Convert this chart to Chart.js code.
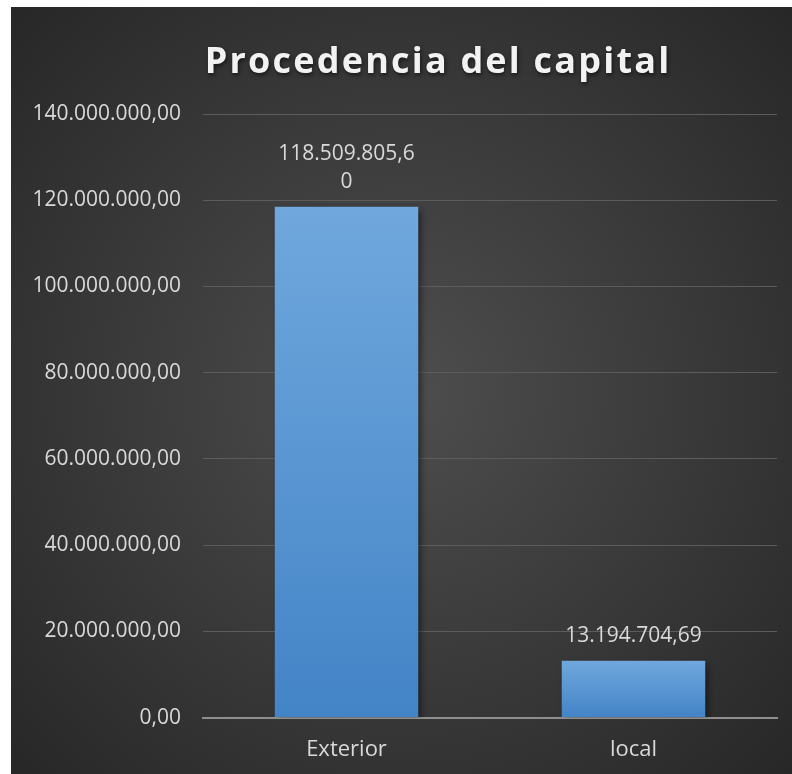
<!DOCTYPE html>
<html lang="es">
<head>
  <meta charset="UTF-8" />
  <title>Procedencia del capital</title>
  <script src="https://cdn.jsdelivr.net/npm/chart.js"></script>
  <style>
    * { margin: 0; padding: 0; box-sizing: border-box; }
    body { background: #fff; width: 792px; height: 774px; overflow: hidden; }
    .marco { position: absolute; left: 11px; top: 7px; width: 781px; height: 767px; }
  </style>
</head>
<body>
  <div class="marco"><canvas id="grafico"></canvas></div>

  <script>
    const titulo = 'Procedencia del capital';
    const categorias = ['Exterior', 'local'];
    const valores = [118509805.60, 13194704.69];
    const ejeMin = 0;
    const ejeMax = 140000000;
    const ejePaso = 20000000;

    // formato es: 1.234.567,89
    function formato(v) {
      const partes = v.toFixed(2).split('.');
      const entero = partes[0].replace(/\B(?=(\d{3})+(?!\d))/g, '.');
      return entero + ',' + partes[1];
    }

    const fuente = "'Open Sans', sans-serif";

    const fondo = {
      id: 'fondo',
      beforeDraw(chart) {
        const { ctx, width, height } = chart;
        const g = ctx.createRadialGradient(width * 0.5, height * 0.5, 0, width * 0.5, height * 0.5, width * 0.72);
        g.addColorStop(0, '#4e4e4e');
        g.addColorStop(1, '#262626');
        ctx.save();
        ctx.fillStyle = g;
        ctx.fillRect(0, 0, width, height);
        ctx.restore();
      }
    };

    const sombra = {
      id: 'sombra',
      beforeDatasetDraw(chart) {
        const ctx = chart.ctx;
        ctx.save();
        ctx.shadowColor = 'rgba(0,0,0,0.55)';
        ctx.shadowBlur = 7;
        ctx.shadowOffsetX = 3;
        ctx.shadowOffsetY = 3;
      },
      afterDatasetDraw(chart) {
        chart.ctx.restore();
      }
    };

    const tituloPlugin = {
      id: 'tituloPlugin',
      afterDraw(chart) {
        const ctx = chart.ctx;
        ctx.save();
        ctx.font = "bold 36px " + fuente;
        ctx.letterSpacing = '2.2px';
        ctx.fillStyle = '#f2f2f2';
        ctx.textAlign = 'center';
        ctx.textBaseline = 'alphabetic';
        ctx.shadowColor = 'rgba(0,0,0,0.6)';
        ctx.shadowBlur = 4;
        ctx.shadowOffsetX = 1;
        ctx.shadowOffsetY = 2;
        ctx.fillText(titulo, 427, 66);
        ctx.restore();
      }
    };

    const etiquetas = {
      id: 'etiquetas',
      afterDatasetsDraw(chart) {
        const ctx = chart.ctx;
        const meta = chart.getDatasetMeta(0);
        ctx.save();
        ctx.font = "21px " + fuente;
        ctx.fillStyle = '#d9d9d9';
        ctx.textAlign = 'center';
        ctx.textBaseline = 'middle';
        meta.data.forEach((bar, i) => {
          const texto = formato(valores[i]);
          const ancho = bar.width;
          const lineas = [];
          let resto = texto;
          while (ctx.measureText(resto).width > ancho && resto.length > 1) {
            let n = resto.length - 1;
            while (n > 1 && ctx.measureText(resto.slice(0, n)).width > ancho) n--;
            lineas.push(resto.slice(0, n));
            resto = resto.slice(n);
          }
          lineas.push(resto);
          const alto = 28;
          lineas.forEach((l, k) => {
            const y = bar.y - 25 - (lineas.length - 1 - k) * alto;
            ctx.fillText(l, bar.x, y);
          });
        });
        ctx.restore();
      }
    };

    function degradado(context) {
      const chart = context.chart;
      if (!chart.chartArea || context.dataIndex === undefined) return '#5b9bd5';
      const y = chart.scales.y;
      const top = y.getPixelForValue(valores[context.dataIndex]);
      const base = y.getPixelForValue(0);
      if (!isFinite(top) || !isFinite(base) || base - top < 1) return '#5b9bd5';
      const g = chart.ctx.createLinearGradient(0, top, 0, base);
      g.addColorStop(0, '#70a8dd');
      g.addColorStop(1, '#4384c7');
      return g;
    }

    const ctx = document.getElementById('grafico').getContext('2d');
    const grafico = new Chart(ctx, {
      type: 'bar',
      data: {
        labels: categorias,
        datasets: [{
          data: valores,
          backgroundColor: degradado,
          borderWidth: 0,
          categoryPercentage: 1,
          barPercentage: 0.5
        }]
      },
      options: {
        responsive: true,
        maintainAspectRatio: false,
        animation: false,
        layout: { padding: { top: 107, right: 15, bottom: 0, left: 0 } },
        plugins: {
          legend: { display: false },
          tooltip: { enabled: false },
          title: { display: false }
        },
        scales: {
          x: {
            grid: { display: false },
            border: { display: true, color: '#8f8f8f', width: 2 },
            ticks: { color: '#d9d9d9', font: { family: fuente, size: 22 }, padding: 11 }
          },
          y: {
            min: ejeMin,
            max: ejeMax,
            afterFit(scale) { scale.width = 192; },
            grid: { color: '#5c5c5c', lineWidth: 1, drawTicks: false },
            border: { display: false },
            ticks: {
              stepSize: ejePaso,
              color: '#d9d9d9',
              font: { family: fuente, size: 21 },
              padding: 22,
              callback: v => formato(v)
            }
          }
        }
      },
      plugins: [fondo, sombra, etiquetas, tituloPlugin]
    });
  </script>
</body>
</html>
